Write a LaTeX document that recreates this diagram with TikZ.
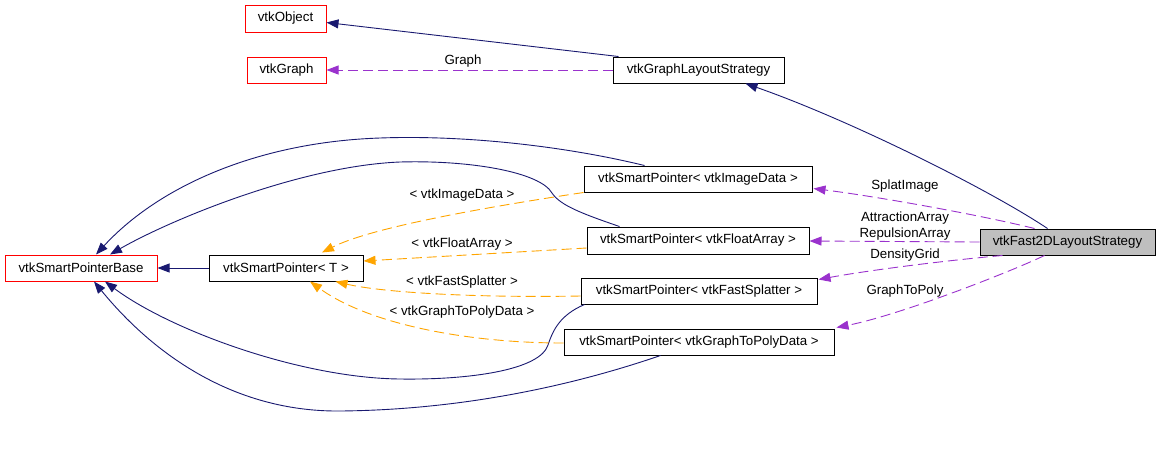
\documentclass[tikz,border=0pt]{standalone}
\usepackage{fontspec}
\setmainfont{Liberation Sans}
\usetikzlibrary{arrows.meta,calc}
\definecolor{navyc}{HTML}{191970}
\definecolor{purplec}{HTML}{9A32CD}
\definecolor{orangec}{HTML}{FFA500}
\definecolor{grayc}{HTML}{BFBFBF}
\tikzset{
  cls/.style={draw=black, line width=1pt, inner sep=0pt, font=\fontsize{13.3}{15}\selectfont},
  ext/.style={cls, draw=red},
  usepath/.style={-{Triangle[length=12pt,width=9pt]}, draw=purplec, line width=0.9pt, dash pattern=on 10pt off 5pt},
  tmpl/.style={-{Triangle[length=12pt,width=9pt]}, draw=orangec, line width=0.9pt, dash pattern=on 10pt off 5pt},
  nav/.style={-{Triangle[length=12pt,width=9pt]}, draw=navyc, line width=0.9pt},
  lbl/.style={font=\fontsize{13.3}{15}\selectfont, inner sep=0pt, text=black},
}
\begin{document}
\begin{tikzpicture}[x=1pt,y=-1pt]
\useasboundingbox (0,0) rectangle (1160,451);
% nodes
\node[ext, minimum width=81pt, minimum height=27pt] (obj) at (285.5,18.5) {vtkObject};
\node[ext, minimum width=79pt, minimum height=26pt] (graph) at (286.5,70) {vtkGraph};
\node[cls, minimum width=171pt, minimum height=26pt] (gls) at (698.5,70) {vtkGraphLayoutStrategy};
\node[cls, minimum width=228pt, minimum height=26pt] (img) at (698,179) {vtkSmartPointer< vtkImageData >};
\node[cls, minimum width=222pt, minimum height=27pt] (flt) at (698,240.5) {vtkSmartPointer< vtkFloatArray >};
\node[ext, minimum width=152pt, minimum height=26pt] (base) at (81,268) {vtkSmartPointerBase};
\node[cls, minimum width=154pt, minimum height=26pt] (T) at (286,268) {vtkSmartPointer< T >};
\node[cls, fill=grayc, minimum width=175pt, minimum height=26pt] (fast) at (1067.5,242) {vtkFast2DLayoutStrategy};
\node[cls, minimum width=236pt, minimum height=26pt] (spl) at (699,291) {vtkSmartPointer< vtkFastSplatter >};
\node[cls, minimum width=270pt, minimum height=26pt] (g2p) at (699,342) {vtkSmartPointer< vtkGraphToPolyData >};
% inheritance
\draw[nav] ($(gls.north west)+(6,0)$) -- ($(obj.east)+(0,4)$);
\draw[nav] ($(fast.north west)+(68,0)$) .. controls (990,190) and (850,120) .. ($(gls.south)+(47,0)$);
\draw[nav] (T.west) -- (base.east);
\draw[nav] ($(img.north west)+(61,0)$) .. controls (560,145) and (460,135) .. (380,138)
  .. controls (260,142) and (160,185) .. ($(base.north)+(15,0)$);
\draw[nav] ($(flt.north west)+(33,0)$) .. controls (580,213) and (560,205) .. (552,193)
  .. controls (540,172) and (470,160) .. (400,162)
  .. controls (300,166) and (170,220) .. ($(base.north)+(29,0)$);
\draw[nav] ($(spl.south west)+(4,0)$) .. controls (560,315) and (553,330) .. (548,345)
  .. controls (540,370) and (470,380) .. (400,379)
  .. controls (300,378) and (170,330) .. ($(base.south)+(24,0)$);
\draw[nav] ($(g2p.south west)+(97,0)$) .. controls (560,390) and (450,410) .. (340,411)
  .. controls (230,412) and (150,350) .. ($(base.south)+(13,0)$);
% usage
\draw[usepath] (gls.west) -- (graph.east);
\node[lbl] (lg) at (463,61) {Graph};
\draw[usepath] ($(fast.north west)+(55,0)$) .. controls (980,215) and (880,197) .. ($(img.south east)+(1,-4)$);
\draw[usepath] (fast.west) -- ($(flt.east)+(0,0.5)$);
\draw[usepath] ($(fast.south west)+(23,0)$) .. controls (950,260) and (870,270) .. ($(spl.north east)+(1,2)$);
\draw[usepath] ($(fast.south west)+(65,0)$) .. controls (1010,272) and (900,315) .. ($(g2p.north east)+(2,-1)$);
\node[lbl] (l1) at (905,186) {SplatImage};
\node[lbl] (l2) at (905,218) {AttractionArray};
\node[lbl] (l3) at (905,234) {RepulsionArray};
\node[lbl] (l4) at (905,255) {DensityGrid};
\node[lbl] (l5) at (905,291) {GraphToPoly};
% templates
\draw[tmpl] (img.south west) .. controls (480,208) and (370,228) .. ($(T.north)+(36,-2)$);
\draw[tmpl] ($(flt.west)+(0,7.5)$) -- ($(T.east)+(0,-7)$);
\draw[tmpl] ($(spl.west)+(0,5)$) .. controls (470,298) and (380,292) .. ($(T.south east)+(-28,0)$);
\draw[tmpl] ($(g2p.west)+(0,1)$) .. controls (470,343) and (370,325) .. ($(T.south)+(24,0)$);
\node[lbl] (o1) at (462,195) {< vtkImageData >};
\node[lbl] (o2) at (462,244) {< vtkFloatArray >};
\node[lbl] (o3) at (462,282) {< vtkFastSplatter >};
\node[lbl] (o4) at (462,312) {< vtkGraphToPolyData >};
\end{tikzpicture}
\end{document}
